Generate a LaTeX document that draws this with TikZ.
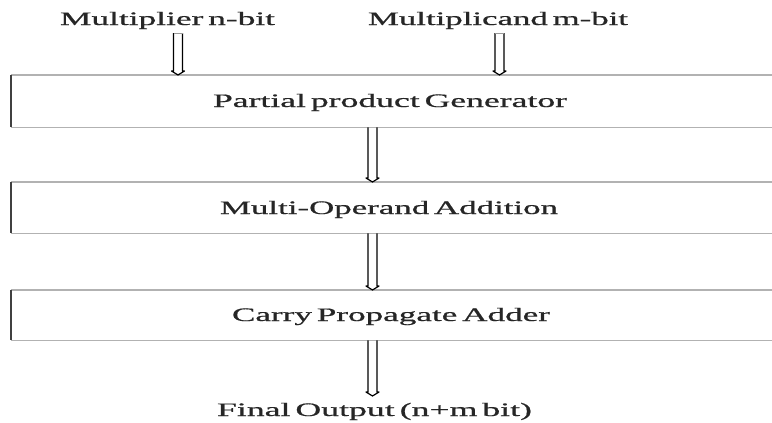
\documentclass[tikz,border=0pt]{standalone}
\usepackage{fontspec}
\setmainfont{Liberation Serif}[WordSpace=0.55,FakeBold=0.6]
\usepackage{graphicx}
\newcommand{\wtext}[2]{\resizebox{#1pt}{\height}{#2}}
\begin{document}
\begin{tikzpicture}[x=1pt,y=-1pt,
  lbl/.style={anchor=base,inner sep=0pt,font=\fontsize{19}{21}\selectfont,text=black!85},
  boxarea/.style={inner sep=0pt,minimum width=790pt,anchor=north west},
  edgegray/.style={draw=black!30,line width=1.3pt},
  edgedark/.style={draw=black!75,line width=1.3pt},
  hollowarrow/.style={draw=black,line width=1.2pt,line join=round,
    to path={([xshift=-4.5pt]\tikztostart) -- ([xshift=-4.5pt,yshift=4pt]\tikztotarget)
      -- ([xshift=-6.5pt,yshift=4pt]\tikztotarget) -- (\tikztotarget)
      -- ([xshift=6.5pt,yshift=4pt]\tikztotarget) -- ([xshift=4.5pt,yshift=4pt]\tikztotarget)
      -- ([xshift=4.5pt]\tikztostart) \tikztonodes}},
  capped/.style={draw=black!40,line width=0.8pt}]
\useasboundingbox (0,0) rectangle (772,423);
\clip (0,0) rectangle (772,423);
% boxes
\node[boxarea,minimum height=52pt] (b1) at (11,75) {};
\node[boxarea,minimum height=51pt] (b2) at (11,182) {};
\node[boxarea,minimum height=50pt] (b3) at (11,290) {};
\foreach \b in {b1,b2,b3}{
  \draw[edgegray] (\b.north west) -- (\b.north east);
  \draw[edgegray] (\b.south west) -- (\b.south east);
  \draw[edgedark] (\b.north west) -- (\b.south west);
}
% texts
\node[lbl] (in1) at (167.5,25) {\wtext{215}{Multiplier n-bit}};
\node[lbl] (in2) at (498,25) {\wtext{260}{Multiplicand m-bit}};
\node[lbl] (t1) at (390,107) {\wtext{354}{Partial product Generator}};
\node[lbl] (t2) at (389,214) {\wtext{338}{Multi-Operand Addition}};
\node[lbl] (t3) at (391,321) {\wtext{318}{Carry Propagate Adder}};
\node[lbl] (out) at (374.5,416) {\wtext{315}{Final Output (n+m bit)}};
% arrows
\coordinate (a1) at (178,33);
\coordinate (a2) at (499.5,33);
\coordinate (ax) at (372.5,0);
\draw[hollowarrow] (a1) to (a1 |- b1.north);
\draw[capped] ([xshift=-4.5pt]a1) -- ([xshift=4.5pt]a1);
\draw[hollowarrow] (a2) to (a2 |- b1.north);
\draw[capped] ([xshift=-4.5pt]a2) -- ([xshift=4.5pt]a2);
\draw[hollowarrow] (ax |- b1.south) to (ax |- b2.north);
\draw[hollowarrow] (ax |- b2.south) to (ax |- b3.north);
\draw[hollowarrow] (ax |- b3.south) to (ax |- 0,396);
\end{tikzpicture}
\end{document}
